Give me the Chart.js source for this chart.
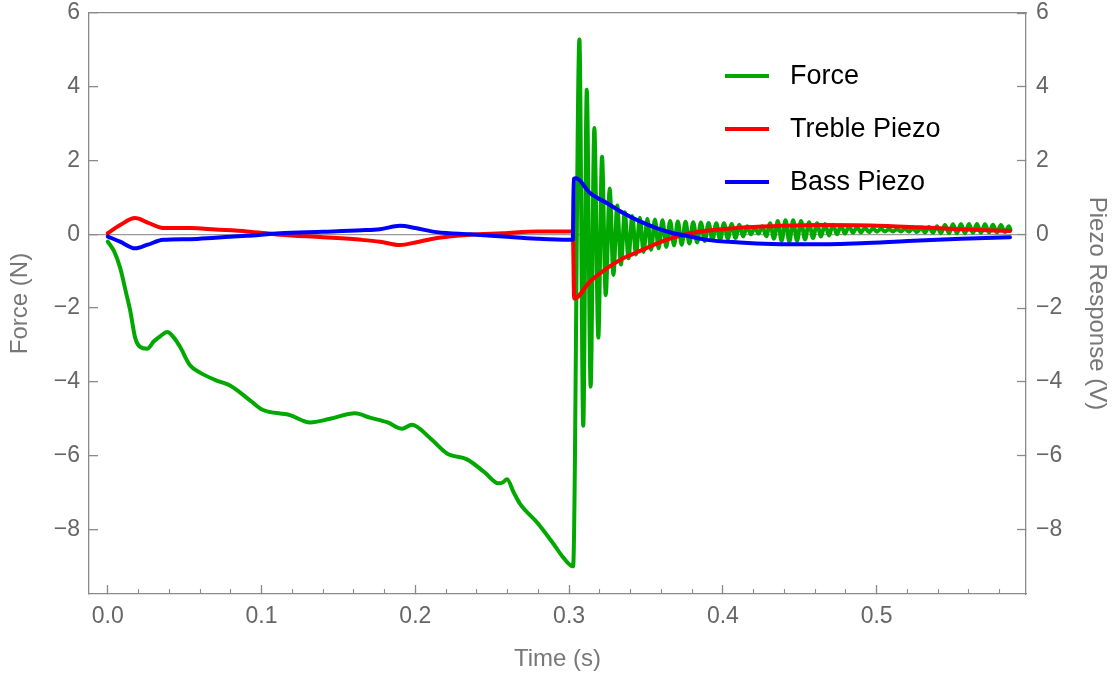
<!DOCTYPE html>
<html>
<head>
<meta charset="utf-8">
<title>Force and piezo response</title>
<script src="https://cdn.jsdelivr.net/npm/chart.js@4/dist/chart.umd.min.js"></script>
<style>
    html, body { margin: 0; padding: 0; background: #fff; }
    #wrap { position: relative; width: 1120px; height: 682px; }
    #legend { position: absolute; left: 725px; top: 49px; font-family: "Liberation Sans", Arial, sans-serif; font-size: 27px; color: #000; }
    #legend .item { height: 53px; display: flex; align-items: center; }
    #legend .swatch { width: 44px; height: 4px; margin-right: 21px; }
</style>
</head>
<body>
<div id="wrap">
    <canvas id="chart" width="1120" height="682"></canvas>
    <div id="legend"></div>
</div>
<script>
// Force (N), green trace
const forceTime = [
    0, 0.004, 0.008, 0.012, 0.0145, 0.0178, 0.021, 0.0256, 0.030, 0.0345,
    0.0386, 0.043, 0.047, 0.0535, 0.060, 0.070, 0.0795, 0.0925, 0.1003, 0.1185,
    0.1315, 0.1446, 0.1608, 0.1705, 0.1820, 0.1913, 0.1978, 0.2090, 0.2206, 0.2336,
    0.2450, 0.2540, 0.2570, 0.2596, 0.2640, 0.2680, 0.2800, 0.2900, 0.2960, 0.3026,
    // ringing after the release
    0.3067, 0.3092, 0.3115, 0.3140, 0.3164, 0.3190, 0.3214, 0.3238, 0.3264, 0.3288,
    0.3313, 0.3337, 0.3362, 0.3386, 0.3411, 0.3435, 0.3460, 0.3484, 0.3509, 0.3533,
    0.3558, 0.3582, 0.3607, 0.3632, 0.3657, 0.3682, 0.3707, 0.3732, 0.3757, 0.3782,
    0.3807, 0.3832, 0.3857, 0.3882, 0.3907, 0.3932, 0.3957, 0.3982, 0.4007, 0.4032,
    0.4057, 0.4082, 0.4107, 0.4132, 0.4157, 0.4182, 0.4207, 0.4232, 0.4257, 0.4282,
    0.4307, 0.4332, 0.4357, 0.4382, 0.4407, 0.4432, 0.4457, 0.4482, 0.4508, 0.4534,
    0.4560, 0.4586, 0.4612, 0.4638, 0.4664, 0.4690, 0.4716, 0.4742, 0.4768, 0.4794,
    0.4820, 0.4846, 0.4872, 0.4898, 0.4924, 0.4950, 0.4976, 0.5002, 0.5028, 0.5054,
    0.5080, 0.5106, 0.5132, 0.5158, 0.5184, 0.5210, 0.5236, 0.5262, 0.5288, 0.5314,
    0.5340, 0.5366, 0.5392, 0.5418, 0.5444, 0.5470, 0.5496, 0.5522, 0.5548, 0.5574,
    0.5600, 0.5626, 0.5652, 0.5678, 0.5704, 0.5730, 0.5756, 0.5782, 0.5808, 0.5834,
    0.5860, 0.5870
];
const forceValues = [
    -0.2, -0.45, -0.9, -1.6, -2.05, -2.8, -3.05, -3.1, -2.9, -2.75,
    -2.65, -2.8, -3.05, -3.55, -3.75, -3.95, -4.1, -4.5, -4.75, -4.9,
    -5.1, -5.0, -4.85, -4.97, -5.1, -5.27, -5.16, -5.5, -5.94, -6.1,
    -6.45, -6.75, -6.72, -6.64, -7.0, -7.3, -7.85, -8.4, -8.75, -9.0,
    5.28, -5.19, 3.92, -4.13, 2.88, -2.80, 2.10, -1.65, 1.24, -1.10,
    0.78, -0.82, 0.60, -0.65, 0.50, -0.55, 0.45, -0.48, 0.42, -0.42,
    0.40, -0.38, 0.38, -0.34, 0.36, -0.30, 0.35, -0.28, 0.34, -0.25,
    0.33, -0.22, 0.32, -0.18, 0.31, -0.16, 0.30, -0.15, 0.30, -0.12,
    0.28, -0.10, 0.26, -0.06, 0.22, 0.00, 0.18, 0.02, 0.22, -0.05,
    0.30, -0.12, 0.36, -0.18, 0.38, -0.20, 0.38, -0.18, 0.36, -0.14,
    0.33, -0.10, 0.30, -0.06, 0.28, -0.03, 0.26, 0.00, 0.24, 0.02,
    0.22, 0.04, 0.20, 0.05, 0.18, 0.06, 0.16, 0.07, 0.15, 0.08,
    0.14, 0.08, 0.14, 0.08, 0.15, 0.07, 0.16, 0.06, 0.18, 0.05,
    0.20, 0.04, 0.22, 0.03, 0.25, 0.03, 0.27, 0.03, 0.28, 0.03,
    0.28, 0.04, 0.28, 0.04, 0.27, 0.05, 0.26, 0.05, 0.25, 0.06,
    0.22, 0.12
];

// Treble piezo (V), red trace
const trebleTime = [
    0, 0.008, 0.0178, 0.026, 0.036, 0.0535, 0.070, 0.0904, 0.112, 0.140,
    0.165, 0.177, 0.190, 0.200, 0.214, 0.2356, 0.257, 0.279, 0.300, 0.3024,
    0.3033, 0.3136, 0.3245, 0.3352, 0.3461, 0.3569, 0.3677, 0.3786, 0.3895, 0.4110,
    0.432, 0.463, 0.496, 0.528, 0.554, 0.5867
];
const trebleValues = [
    0.03, 0.25, 0.44, 0.32, 0.17, 0.17, 0.13, 0.08, -0.01, -0.08,
    -0.15, -0.20, -0.29, -0.22, -0.10, -0.01, 0.03, 0.08, 0.08, 0.08,
    -1.74, -1.28, -0.92, -0.65, -0.45, -0.25, -0.09, 0.03, 0.10, 0.18,
    0.22, 0.25, 0.24, 0.19, 0.14, 0.09
];

// Bass piezo (V), blue trace
const bassTime = [
    0, 0.008, 0.0178, 0.026, 0.036, 0.0535, 0.070, 0.0904, 0.112, 0.140,
    0.165, 0.177, 0.190, 0.200, 0.214, 0.2356, 0.257, 0.279, 0.300, 0.3024,
    0.3030, 0.3045, 0.3136, 0.3245, 0.3352, 0.3461, 0.3569, 0.3677, 0.3786, 0.3895,
    0.411, 0.432, 0.460, 0.490, 0.520, 0.555, 0.5867
];
const bassValues = [
    -0.06, -0.20, -0.38, -0.28, -0.15, -0.13, -0.09, -0.04, 0.03, 0.07,
    0.11, 0.14, 0.23, 0.17, 0.06, 0.00, -0.06, -0.12, -0.15, -0.15,
    1.50, 1.52, 1.12, 0.85, 0.58, 0.35, 0.17, 0.03, -0.06, -0.15,
    -0.22, -0.26, -0.27, -0.24, -0.18, -0.12, -0.08
];

const xRange = [-0.0122, 0.5971];
const yRange = [-9.75, 6];

const FONT = '"Liberation Sans", Arial, sans-serif';
const AXIS = '#8a8a8a';
const LABEL = '#666666';

function toPoints(ts, vs) {
    return ts.map((t, i) => ({ x: t, y: vs[i] }));
}

function minusSign(v) {
    return String(v).replace('-', '\u2212');
}

// y axes: fixed width, and no extra room reserved for the end labels
function fixY(width) {
    return (scale) => {
        scale.width = width;
        scale.paddingTop = 0;
        scale.paddingBottom = 0;
    };
}

const lineStyle = {
    pointRadius: 0,
    borderWidth: 4,
    borderJoinStyle: 'round',
    borderCapStyle: 'round',
    cubicInterpolationMode: 'monotone',
    fill: false
};

const chart = new Chart(document.getElementById('chart'), {
    type: 'line',
    data: {
        datasets: [
            Object.assign({ label: 'Force', data: toPoints(forceTime, forceValues), borderColor: '#00a800', xAxisID: 'x', yAxisID: 'y', order: 3 }, lineStyle),
            Object.assign({ label: 'Treble Piezo', data: toPoints(trebleTime, trebleValues), borderColor: '#ff0000', xAxisID: 'x', yAxisID: 'y1', order: 2 }, lineStyle),
            Object.assign({ label: 'Bass Piezo', data: toPoints(bassTime, bassValues), borderColor: '#0000ff', xAxisID: 'x', yAxisID: 'y1', order: 1 }, lineStyle)
        ]
    },
    options: {
        responsive: false,
        animation: false,
        layout: { padding: { top: 13, left: 0, right: 0, bottom: 0 } },
        plugins: {
            legend: { display: false },
            tooltip: { enabled: false }
        },
        scales: {
            x: {
                type: 'linear',
                position: 'bottom',
                weight: 1,
                min: xRange[0],
                max: xRange[1],
                ticks: {
                    stepSize: 0.1,
                    includeBounds: false,
                    maxRotation: 0,
                    autoSkip: false,
                    padding: 18,
                    color: LABEL,
                    font: { family: FONT, size: 23 },
                    callback: (v) => v.toFixed(1)
                },
                grid: { drawOnChartArea: false, tickLength: -9, tickColor: AXIS, tickWidth: 1.3 },
                border: { color: AXIS, width: 1.3 },
                title: {
                    display: true,
                    text: 'Time (s)',
                    color: '#777',
                    font: { family: FONT, size: 24 },
                    padding: { top: 0, bottom: 8 }
                },
                afterFit: (scale) => { scale.height = 88; }
            },
            xMinor: {
                type: 'linear',
                position: 'bottom',
                weight: 0,
                min: xRange[0],
                max: xRange[1],
                ticks: { stepSize: 0.02, includeBounds: false, display: false, autoSkip: false },
                grid: { drawOnChartArea: false, tickLength: -5, tickColor: AXIS, tickWidth: 1.1 },
                border: { display: false },
                afterFit: (scale) => { scale.height = 0; }
            },
            xTop: {
                type: 'linear',
                position: 'top',
                min: xRange[0],
                max: xRange[1],
                ticks: { display: false },
                grid: { display: false, drawTicks: false },
                border: { color: AXIS, width: 1.3 },
                afterFit: (scale) => { scale.height = 0; }
            },
            y: {
                type: 'linear',
                position: 'left',
                min: yRange[0],
                max: yRange[1],
                ticks: {
                    stepSize: 2,
                    includeBounds: false,
                    padding: 18,
                    color: LABEL,
                    font: { family: FONT, size: 23 },
                    callback: minusSign
                },
                grid: {
                    drawOnChartArea: true,
                    color: (ctx) => ctx.tick && ctx.tick.value === 0 ? '#9a9a9a' : 'rgba(0,0,0,0)',
                    lineWidth: 1.3,
                    tickLength: -9,
                    tickColor: AXIS,
                    tickWidth: 1.3
                },
                border: { color: AXIS, width: 1.3 },
                title: {
                    display: true,
                    text: 'Force (N)',
                    color: '#777',
                    font: { family: FONT, size: 24 },
                    padding: { top: 6, bottom: 0 }
                },
                afterFit: fixY(89)
            },
            y1: {
                type: 'linear',
                position: 'right',
                min: yRange[0],
                max: yRange[1],
                ticks: {
                    stepSize: 2,
                    includeBounds: false,
                    padding: 19,
                    color: LABEL,
                    font: { family: FONT, size: 23 },
                    callback: minusSign
                },
                grid: { drawOnChartArea: false, tickLength: -9, tickColor: AXIS, tickWidth: 1.3 },
                border: { color: AXIS, width: 1.3 },
                title: {
                    display: true,
                    text: 'Piezo Response (V)',
                    color: '#777',
                    font: { family: FONT, size: 24 },
                    padding: { top: 9, bottom: 0 }
                },
                afterFit: fixY(94)
            }
        }
    }
});

// Legend built from the datasets, placed inside the plot like the original
const legendEl = document.getElementById('legend');
chart.data.datasets.forEach((ds) => {
    const item = document.createElement('div');
    item.className = 'item';
    const sw = document.createElement('span');
    sw.className = 'swatch';
    sw.style.background = ds.borderColor;
    const txt = document.createElement('span');
    txt.textContent = ds.label;
    item.appendChild(sw);
    item.appendChild(txt);
    legendEl.appendChild(item);
});
</script>
</body>
</html>
